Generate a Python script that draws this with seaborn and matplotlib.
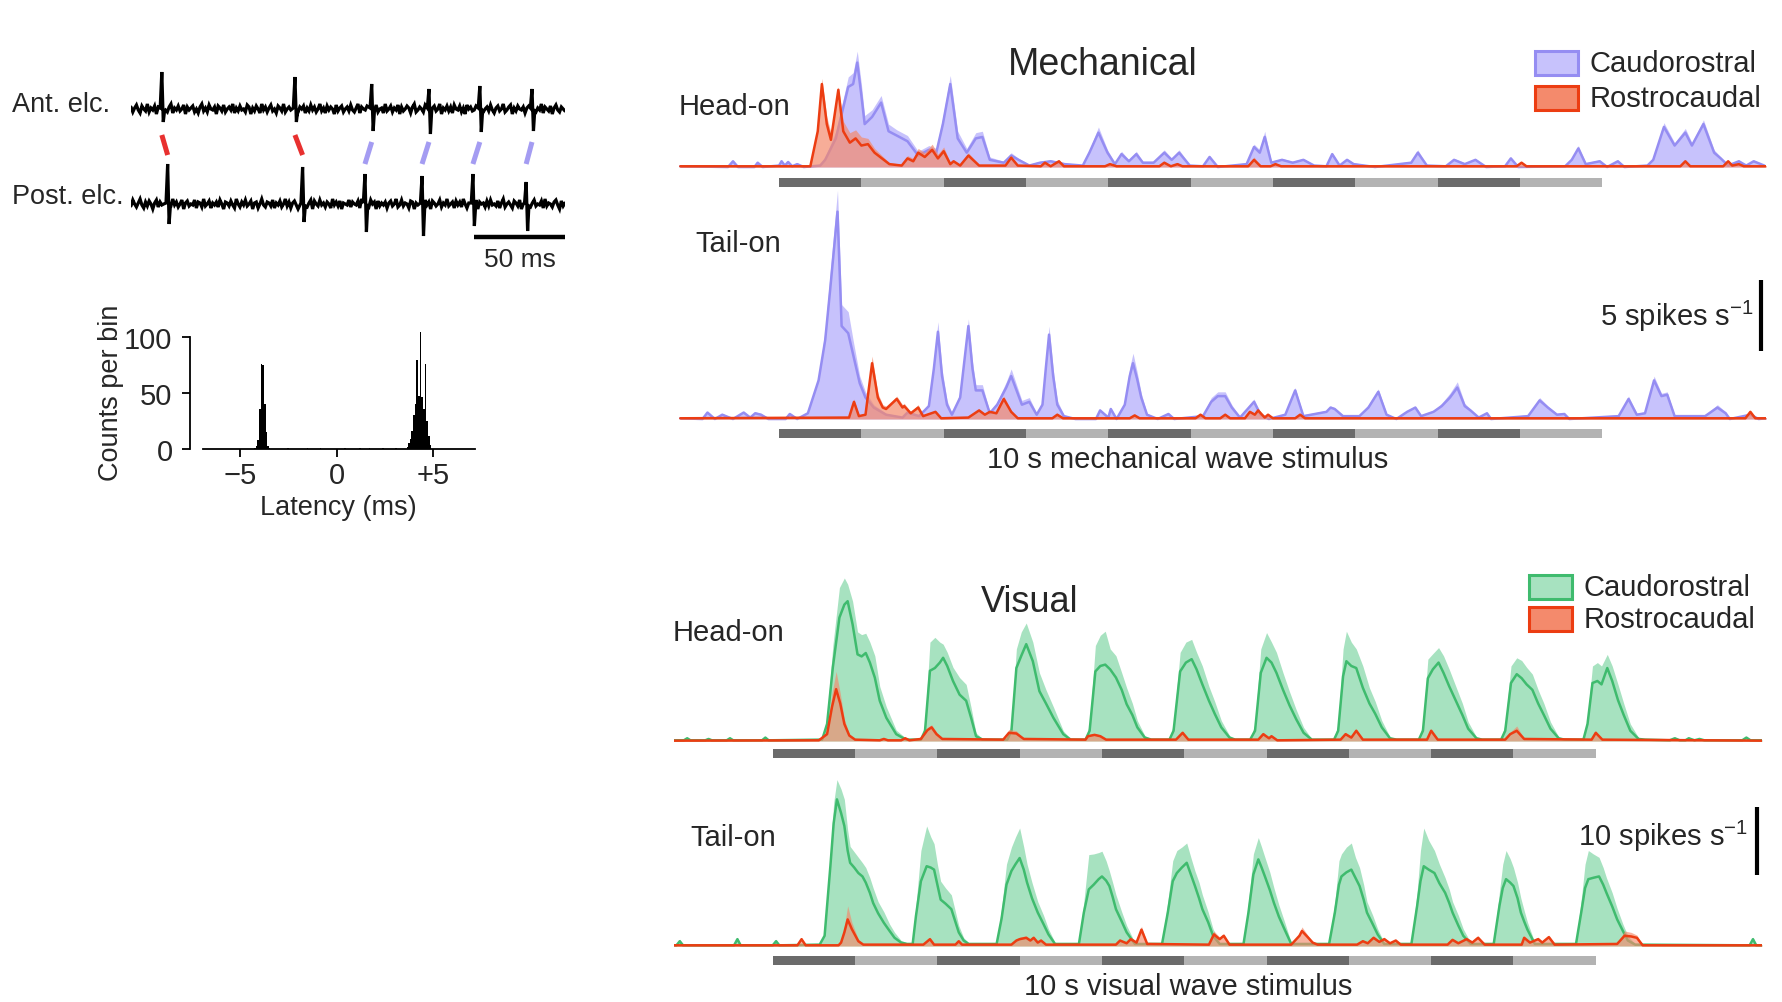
import numpy as np
import pandas as pd
import matplotlib
matplotlib.use("Agg")
import matplotlib.pyplot as plt
from matplotlib.patches import Rectangle
import seaborn as sns

# ------------------------------------------------------------------ data
# Paired electrode recording (time in ms, amplitude in display units)
ANT_SPIKE_MS = [16.9, 89.9, 132.0, 163.4, 191.3, 219.9]
ANT_SPIKE_UP = [37, 32, 25, 20, 23, 20]
ANT_SPIKE_DOWN = [-13, -13, -22, -25, -23, -22]
POST_SPIKE_MS = [20.1, 94.1, 128.3, 159.6, 187.5, 216.7]
POST_SPIKE_UP = [40, 37, 30, 28, 30, 22]
POST_SPIKE_DOWN = [-20, -18, -28, -32, -22, -27]
ANT_NOISE = [2, -3, 1, 4, -1, -4, 3, 0, -2, 5, -3, 1, -1, 3, -5, 2, 0, -2, 4, -1,
             -3, 2, 5, -4, 1, -1, 3, -2, 0, 4, -5, 2, -1, 1, 3, -3, 0, -4, 2, 5,
             -2, 1, -3, 4, 0, -1, 2, -5, 3, 1, -2, 4, -3, 0, 2, -1, 5, -4, 1, -2,
             3, -1, 0, -3, 4, 2, -5, 1, -2, 3, 0, -4, 5, -1, 2, -3, 1, 4, -2, 0,
             -4, 3, 1, -2, 5, -3, 0, 2, -1, -5, 4, 1, -3, 2, 0, 3, -4, 1, -2, 4,
             -1, 2, -3, 0, 5, -2, 1, -4, 3, -1, 2, 0, -5, 4, -2, 1, 3, -3, 0, 2,
             -2, 4, -1, -3, 1, 5, -4, 2, 0, -1, 3, -5, 2, 1, -2, 4, -3, 0, 1, -4,
             5, -2, 0, 3, -3, 1, -1, 4, -5, 2, -2, 0, 3, 1, -4, 2, 5, -3, -1, 2,
             0, -3, 4, -1, 2, -4, 1, 3, -2, 0, 5, -5, 1, -1, 3, -2, 2, -4, 4, 0,
             -1, 3, -3, 1, -5, 4, 0, 2, -2, -1, 3, -4, 5, 1, -3, 0, 2, -2, 4, -1,
             -4, 1, 3, -2, 0, 5, -3, -1, 2, 4, -5, 1, -2, 3, 0, -1, 2, -4, 1, 3,
             -2, 0, 4, -3, 1, -1, 5, -4, 2, 0, -2, 3, -5, 1, 4, -1, -3, 2, 0, -2]
POST_NOISE = [-2, 4, 0, -3, 1, 5, -1, -4, 2, -2, 3, 0, -5, 1, 4, -3, 2, -1, 0, 3,
              -4, 1, -2, 5, -1, 2, -3, 0, 4, -5, 1, 3, -2, 0, -1, 4, -4, 2, 1, -3,
              5, -2, 0, 3, -4, 1, -1, 2, -3, 4, 0, -5, 2, 1, -2, 3, -1, -4, 5, 0,
              -3, 2, -1, 4, -2, 0, 3, -5, 1, 2, -4, 0, 5, -1, -3, 2, 1, -2, 4, -4,
              1, -1, 3, -3, 0, 5, -2, 2, -4, 1, 3, -1, -5, 4, 0, -2, 2, -3, 1, 4,
              -5, 3, 0, -2, 4, -1, 1, -3, 2, 0, -4, 5, -1, 2, -2, 3, -5, 1, 0, -1,
              4, -3, 2, 0, -1, 3, -4, 5, -2, 1, -1, -3, 4, 0, 2, -5, 3, -2, 1, -1,
              2, -4, 1, 3, -2, 0, 5, -3, -1, 4, -2, 1, 0, -4, 3, 2, -5, 1, -1, 3,
              -3, 0, 4, -1, 2, -5, 3, 1, -2, 0, 4, -3, 1, -1, 5, -2, 0, 2, -4, 3,
              -1, 2, -3, 5, 0, -4, 1, 3, -2, -1, 4, -5, 2, 0, 1, -3, 3, -2, 4, -1,
              0, -2, 3, -4, 1, 5, -3, 0, 2, -1, -4, 3, 1, -2, 4, -5, 0, 2, -1, 3,
              -3, 1, 4, -2, 0, -1, 3, -4, 5, -2, 1, 0, -3, 2, 4, -1, -5, 3, -2, 1]
TRACE_LENGTH_MS = 238
SCALE_BAR_MS = 50

# Cross-correlogram between the two electrodes
HIST_LATENCY_MS = [-4.24, -4.155, -4.07, -3.985, -3.9, -3.815, -3.73, -3.645, -3.56, -3.475,
                   -2.54, -1.52, -0.84, 0.435, 1.2, 1.71, 2.39, 3.07,
                   3.665, 3.75, 3.835, 3.92, 4.005, 4.09, 4.175, 4.26, 4.345, 4.43,
                   4.515, 4.6, 4.685, 4.77, 4.855]
HIST_COUNTS = [1, 3, 8, 36, 76, 75, 40, 15, 3, 1,
               1, 1, 1, 1, 1, 1, 1, 1,
               2, 5, 9, 16, 30, 40, 79, 47, 104, 46,
               36, 76, 25, 12, 4]
HIST_BIN_MS = 0.085

# Peri-stimulus rate traces: (time s, mean rate, upper SEM bound) in spikes/s
MECH_HEAD_CR = [(-1.2, .05, .1), (-.62, 0, .05), (-.56, .4, .5), (-.5, 0, .05), (-.3, 0, .05), (-.26, .3, .4),
                (-.2, 0, .05), (0, .1, .1), (.03, .4, .5), (.07, .1, .2), (.11, .35, .45), (.16, .05, .1),
                (.22, .2, .3), (.3, 0, .05), (.5, .1, .2), (.56, .5, .7), (.69, 2.0, 2.5), (.84, 5.6, 6.3),
                (.9, 5.8, 6.6), (.95, 7.3, 8.1), (1.0, 5.0, 5.8), (1.04, 3.0, 3.6), (1.13, 3.5, 4.0),
                (1.24, 4.5, 5.0), (1.33, 2.5, 3.0), (1.43, 2.2, 2.6), (1.56, 1.8, 2.2), (1.69, .8, 1.1),
                (1.82, 1.2, 1.5), (1.91, 1.0, 1.3), (1.99, 3.0, 3.5), (2.08, 5.8, 6.4), (2.17, 2.0, 2.5),
                (2.28, 1.0, 1.3), (2.39, 2.0, 2.4), (2.47, 2.1, 2.5), (2.56, .5, .7), (2.73, .3, .4),
                (2.82, .8, 1.0), (2.91, .5, .6), (3.04, .1, .2), (3.17, .3, .4), (3.3, .4, .5),
                (3.47, .2, .3), (3.69, .1, .15), (3.77, 1.0, 1.2), (3.88, 2.4, 2.8), (3.99, 1.0, 1.2),
                (4.08, .2, .3), (4.16, .9, 1.1), (4.25, .4, .5), (4.34, .9, 1.1), (4.42, .3, .4),
                (4.55, .3, .4), (4.68, 1.0, 1.2), (4.77, .5, .6), (4.86, 1.0, 1.2), (4.99, .1, .15),
                (5.15, .05, .1), (5.23, .7, .8), (5.33, 0, .05), (5.68, .2, .3), (5.77, 1.4, 1.6),
                (5.84, 1.0, 1.2), (5.9, 2.1, 2.5), (5.98, .3, .4), (6.11, .5, .6), (6.24, .3, .4),
                (6.37, .5, .6), (6.5, .1, .15), (6.65, .05, .1), (6.72, .9, 1.0), (6.81, .1, .15),
                (6.9, .5, .6), (6.98, .2, .3), (7.24, 0, .05), (7.68, .3, .4), (7.76, 1.0, 1.2),
                (7.87, .1, .15), (8.1, .05, .1), (8.2, .5, .6), (8.33, .2, .3), (8.46, .5, .6),
                (8.59, 0, .05), (8.82, .05, .1), (8.89, .6, .7), (8.98, 0, .05), (9.55, .05, .1),
                (9.63, .5, .6), (9.71, 1.3, 1.5), (9.8, .2, .3), (9.97, .4, .5), (10.06, 0, .05),
                (10.19, .4, .5), (10.27, 0, .05), (10.55, .1, .15), (10.62, .5, .6), (10.75, 2.8, 3.1),
                (10.88, 1.5, 1.7), (11.01, 2.4, 2.7), (11.09, 1.5, 1.7), (11.23, 3.0, 3.3),
                (11.36, 1.0, 1.2), (11.44, .6, .7), (11.53, .1, .15), (11.66, .4, .5), (11.75, .1, .15),
                (11.84, .4, .5), (11.97, .1, .15)]
MECH_HEAD_RC = [(-1.2, .05, .1), (.38, .05, .1), (.47, 2.5, 2.9), (.52, 5.8, 6.2), (.58, 3.0, 3.5),
                (.63, 1.9, 2.4), (.72, 5.4, 5.6), (.78, 2.5, 3.2), (.86, 1.7, 2.4), (.93, 2.0, 2.6),
                (1.0, 1.5, 2.1), (1.08, 1.6, 2.0), (1.16, 1.0, 1.3), (1.25, .6, .8), (1.34, .2, .3),
                (1.49, .1, .2), (1.56, .6, .8), (1.63, .4, .6), (1.69, 1.0, 1.3), (1.77, .7, 1.0),
                (1.86, 1.2, 1.6), (1.93, .6, .9), (2.0, 1.1, 1.4), (2.08, .2, .3), (2.12, .4, .5),
                (2.2, .1, .15), (2.3, .8, 1.0), (2.43, .1, .15), (2.75, .1, .15), (2.82, .65, .8),
                (2.9, .1, .15), (3.18, .05, .1), (3.23, .3, .4), (3.3, .05, .1), (3.4, .4, .5),
                (3.46, .05, .1), (3.96, .05, .1), (4.02, .2, .3), (4.1, .05, .1), (4.62, .05, .1),
                (4.68, .3, .4), (4.76, .05, .1), (4.84, .2, .3), (4.9, .05, .1), (5.7, .05, .1),
                (5.77, .5, .7), (5.85, .05, .1), (5.97, .05, .1), (6.03, .2, .3), (6.1, .05, .1),
                (8.96, .05, .1), (9.02, .3, .4), (9.08, .05, .1), (10.95, .05, .1), (11.01, .4, .5),
                (11.07, .05, .1), (11.47, .05, .1), (11.53, .4, .5), (11.58, .1, .15), (11.66, .2, .3),
                (11.72, .05, .1), (12.0, .05, .1)]
MECH_TAIL_CR = [(-1.2, .05, .1), (-.93, 0, .05), (-.87, .45, .55), (-.78, 0, .05), (-.69, .3, .4),
                (-.56, 0, .05), (-.43, .45, .55), (-.35, .1, .15), (-.29, .4, .5), (-.22, .3, .4),
                (-.13, 0, .05), (.08, 0, .05), (.13, .35, .45), (.22, 0, .05), (.35, .4, .5),
                (.48, 2.7, 3.0), (.56, 5.5, 6.2), (.62, 9.0, 10.2), (.71, 14.5, 16.0), (.76, 6.5, 8.0),
                (.84, 6.0, 7.5), (.9, 4.5, 5.5), (.98, 2.5, 3.0), (1.05, 1.5, 1.9), (1.15, .8, 1.0),
                (1.3, .3, .4), (1.5, .1, .15), (1.56, .45, .55), (1.7, .2, .3), (1.82, .9, 1.1),
                (1.88, 3.5, 4.0), (1.93, 6.1, 6.8), (1.98, 3.0, 3.5), (2.04, 1.0, 1.3), (2.1, .3, .4),
                (2.2, 1.5, 1.8), (2.25, 4.0, 4.5), (2.3, 6.5, 7.0), (2.35, 3.5, 4.0), (2.39, 2.0, 2.4),
                (2.47, 2.0, 2.4), (2.56, .4, .5), (2.65, 1.0, 1.2), (2.76, 2.2, 2.6), (2.82, 3.0, 3.5),
                (2.95, 1.0, 1.3), (3.04, 1.2, 1.5), (3.13, .3, .4), (3.2, 1.0, 1.2), (3.24, 3.5, 4.0),
                (3.28, 5.9, 6.5), (3.33, 3.0, 3.5), (3.38, 1.0, 1.3), (3.46, .2, .3), (3.6, 0, .05),
                (3.85, 0, .05), (3.9, .6, .7), (4.0, .1, .15), (4.03, .7, .8), (4.1, 0, .05),
                (4.2, 1.0, 1.2), (4.26, 3.0, 3.6), (4.3, 3.9, 4.6), (4.35, 2.8, 3.3), (4.4, 1.5, 1.8),
                (4.47, .3, .4), (4.6, 0, .05), (4.73, .35, .45), (4.8, 0, .05), (5.15, .2, .3),
                (5.25, 1.2, 1.5), (5.33, 1.6, 1.9), (5.42, 1.6, 1.9), (5.5, .8, 1.0), (5.6, .1, .15),
                (5.77, 1.2, 1.4), (5.85, .3, .4), (5.95, 0, .05), (6.15, .3, .4), (6.27, 2.0, 2.2),
                (6.37, .2, .3), (6.65, .5, .6), (6.7, .8, .9), (6.75, .7, .8), (6.85, .2, .3),
                (7.05, .2, .3), (7.16, .8, 1.0), (7.28, 1.9, 2.1), (7.38, .3, .4), (7.5, 0, .05),
                (7.63, .5, .6), (7.73, .8, .9), (7.8, .2, .3), (7.95, .5, .6), (8.05, .9, 1.1),
                (8.15, 1.5, 1.8), (8.24, 2.2, 2.6), (8.33, .9, 1.1), (8.4, .6, .7), (8.5, .1, .15),
                (8.6, .4, .5), (8.65, 0, .05), (9.1, .2, .3), (9.24, 1.3, 1.5), (9.34, .8, .9),
                (9.45, .3, .4), (9.54, .35, .45), (9.6, 0, .05), (10.2, .2, .3), (10.32, 1.4, 1.6),
                (10.42, .3, .4), (10.52, .4, .5), (10.63, 2.7, 3.0), (10.72, 1.6, 1.8),
                (10.79, 1.7, 1.9), (10.88, .2, .3), (11.25, .2, .3), (11.4, .8, 1.0), (11.5, .4, .5),
                (11.55, 0, .05), (11.8, .3, .4), (11.9, 0, .05), (12.0, .05, .1)]
MECH_TAIL_RC = [(-1.2, .05, .1), (.85, .1, .15), (.91, 1.2, 1.4), (.97, .2, .3), (1.05, .3, .4),
                (1.13, 3.9, 4.4), (1.2, 1.5, 1.8), (1.26, .8, 1.0), (1.3, .7, .9), (1.43, 1.4, 1.6),
                (1.5, .8, 1.0), (1.52, .9, 1.1), (1.6, .4, .5), (1.69, .8, 1.0), (1.75, .2, .3),
                (1.9, .5, .6), (1.97, .05, .1), (2.3, .1, .15), (2.43, .6, .7), (2.5, .3, .4),
                (2.56, .5, .6), (2.64, .4, .5), (2.73, 1.4, 1.6), (2.82, .5, .6), (2.9, .05, .1),
                (3.32, .05, .1), (3.38, .3, .4), (3.45, .05, .1), (4.26, .05, .1), (4.32, .25, .35),
                (4.38, .05, .1), (5.06, .05, .1), (5.12, .3, .4), (5.18, .05, .1), (5.36, .05, .1),
                (5.42, .3, .4), (5.48, .05, .1), (5.66, .05, .1), (5.72, .5, .6), (5.78, .3, .4),
                (5.82, .6, .7), (5.9, .1, .15), (5.94, .3, .4), (6.0, .05, .1), (6.27, .05, .1),
                (6.33, .3, .4), (6.39, .05, .1), (11.74, .05, .1), (11.8, .5, .6), (11.86, .05, .1),
                (12.0, .05, .1)]
VIS_HEAD_CR = [(-1.2, .1, .2), (-1.08, .1, .2), (-1.04, .4, .6), (-1.0, .1, .2), (-.82, .1, .2),
               (-.78, .3, .5), (-.74, .1, .2), (-.56, .1, .2), (-.52, .4, .6), (-.48, .1, .2),
               (-.13, .1, .2), (-.09, .5, .7), (-.05, .1, .2),
               (.6, .2, .3), (.66, 2.5, 3.5), (.73, 10.8, 14.0), (.81, 18.1, 22.5), (.87, 20.0, 23.9),
               (.91, 20.5, 23.0), (.97, 17.1, 20.5), (1.03, 12.7, 16.0), (1.08, 12.4, 15.6),
               (1.13, 12.9, 15.8), (1.18, 11.5, 14.5), (1.24, 9.3, 12.5), (1.3, 5.9, 8.0),
               (1.38, 3.4, 5.0), (1.5, 1.0, 1.6), (1.62, .2, .4),
               (1.8, .2, .3), (1.85, 1.5, 2.5), (1.91, 10.3, 14.5), (1.97, 10.7, 15.2),
               (2.03, 11.5, 14.5), (2.07, 12.2, 14.2), (2.12, 11.0, 13.0), (2.19, 8.8, 10.8),
               (2.27, 6.8, 9.3), (2.35, 5.9, 8.3), (2.41, 3.4, 4.9), (2.47, .7, 1.2), (2.55, .2, .3),
               (2.85, .2, .3), (2.9, 1.5, 2.5), (2.96, 10.7, 13.5), (3.02, 12.5, 16.0),
               (3.08, 14.2, 17.3), (3.16, 11.7, 14.5), (3.24, 7.3, 10.0), (3.32, 5.5, 7.5),
               (3.41, 3.4, 5.0), (3.53, 1.0, 1.5), (3.62, .2, .3),
               (3.8, .2, .3), (3.85, 1.5, 2.5), (3.92, 10.2, 14.0), (3.98, 11.0, 15.5),
               (4.04, 11.2, 16.1), (4.1, 10.5, 13.5), (4.17, 9.3, 12.5), (4.24, 7.5, 10.0),
               (4.3, 5.4, 7.8), (4.37, 3.8, 5.5), (4.43, 2.0, 3.0), (4.52, .5, .8), (4.6, .2, .3),
               (4.82, .2, .3), (4.87, 1.5, 2.5), (4.95, 10.2, 13.0), (5.02, 11.5, 14.5),
               (5.09, 12.0, 14.9), (5.15, 10.5, 13.0), (5.22, 8.3, 11.0), (5.3, 5.9, 8.0),
               (5.37, 4.0, 5.8), (5.45, 2.0, 3.0), (5.55, .5, .8), (5.62, .2, .3),
               (5.8, .2, .3), (5.86, 1.5, 2.5), (5.93, 10.0, 13.5), (6.0, 12.2, 15.9),
               (6.06, 11.5, 14.5), (6.12, 10.0, 13.0), (6.2, 7.5, 10.0), (6.28, 5.2, 7.2),
               (6.36, 3.2, 4.6), (6.45, 1.2, 2.0), (6.55, .2, .3),
               (6.82, .2, .3), (6.87, 1.5, 2.5), (6.93, 9.5, 13.5), (6.97, 11.7, 16.1),
               (7.03, 11.0, 14.5), (7.09, 10.7, 13.5), (7.17, 7.8, 11.0), (7.25, 5.5, 7.8),
               (7.32, 4.0, 5.8), (7.4, 2.0, 3.0), (7.5, .4, .6), (7.58, .2, .3),
               (7.85, .2, .3), (7.9, 1.5, 2.5), (7.96, 9.2, 12.0), (8.02, 10.5, 12.8),
               (8.09, 11.5, 13.7), (8.15, 10.0, 12.5), (8.22, 8.0, 10.5), (8.3, 5.9, 8.0),
               (8.38, 3.8, 5.5), (8.45, 1.8, 2.8), (8.55, .4, .6), (8.62, .2, .3),
               (8.85, .2, .3), (8.9, 1.5, 2.5), (8.97, 8.5, 11.0), (9.04, 9.8, 12.2),
               (9.1, 9.2, 11.8), (9.16, 8.3, 10.8), (9.23, 7.5, 9.8), (9.3, 5.5, 7.5),
               (9.37, 3.8, 5.5), (9.45, 1.8, 2.8), (9.55, .4, .6), (9.62, .2, .3),
               (9.85, .2, .3), (9.9, 2.5, 3.5), (9.96, 8.5, 11.0), (10.02, 8.8, 11.5),
               (10.07, 8.3, 11.0), (10.14, 10.7, 12.7), (10.2, 8.8, 11.0), (10.27, 6.0, 8.3),
               (10.34, 3.8, 5.5), (10.42, 1.5, 2.5), (10.52, .3, .5), (10.6, .2, .3),
               (10.9, .1, .2), (10.96, .4, .6), (11.02, .1, .2), (11.09, .1, .2), (11.13, .4, .6),
               (11.2, .1, .2), (11.26, .3, .5), (11.32, .1, .2), (11.78, .1, .2), (11.83, .5, .7),
               (11.88, .1, .2), (12.02, .1, .2)]
VIS_HEAD_RC = [(-1.2, .05, .1), (.56, .1, .2), (.66, 1.0, 1.5), (.72, 5.0, 7.0), (.77, 7.6, 10.2),
               (.82, 5.5, 7.0), (.87, 2.5, 3.2), (.93, .8, 1.0), (1.0, .2, .3), (1.3, .1, .15),
               (1.35, .3, .4), (1.4, .1, .15), (1.56, .1, .15), (1.61, .4, .5), (1.66, .1, .15),
               (1.8, .3, .4), (1.88, 1.6, 2.0), (1.93, 2.0, 2.4), (1.99, 1.0, 1.3), (2.06, .3, .4),
               (2.8, .2, .3), (2.87, 1.2, 1.7), (2.96, 1.1, 1.5), (3.05, .3, .4), (3.8, .2, .3),
               (3.83, .7, .9), (3.91, .9, 1.1), (3.98, .7, .9), (4.05, .2, .3), (4.9, .2, .3),
               (4.98, 1.2, 1.5), (5.05, .2, .3), (5.9, .2, .3), (5.96, 1.0, 1.3), (6.03, .4, .5),
               (6.06, .7, .9), (6.13, .1, .15), (6.9, .2, .3), (6.96, 1.0, 1.3), (7.03, .5, .6),
               (7.09, 1.5, 1.8), (7.17, .2, .3), (7.95, .2, .3), (8.0, 1.5, 1.8), (8.08, .2, .3),
               (8.9, .2, .3), (8.96, 1.0, 1.3), (9.04, 1.5, 2.2), (9.13, .3, .4), (9.95, .2, .3),
               (10.0, 1.2, 1.5), (10.08, .2, .3), (12.02, .05, .1)]
VIS_TAIL_CR = [(-1.2, .1, .2), (-1.17, .1, .2), (-1.13, .7, 1.0), (-1.09, .1, .2), (-.47, .1, .2),
               (-.43, 1.0, 1.3), (-.39, .1, .2), (0, .1, .2), (.04, .7, 1.0), (.08, .1, .2),
               (.57, .2, .3), (.63, 1.5, 2.0), (.7, 11.7, 13.5), (.74, 18.0, 21.0), (.78, 21.5, 24.4),
               (.83, 19.5, 23.0), (.87, 17.6, 21.5), (.91, 14.0, 17.0), (.94, 12.2, 14.6),
               (.99, 11.5, 13.8), (1.04, 10.7, 13.0), (1.09, 10.2, 12.2), (1.13, 9.3, 11.5),
               (1.18, 7.8, 10.0), (1.22, 6.3, 8.5), (1.28, 4.8, 6.5), (1.35, 3.4, 5.0),
               (1.42, 2.2, 3.2), (1.48, 1.2, 2.0), (1.56, .5, .8), (1.63, .3, .5),
               (1.7, .3, .5), (1.74, 4.4, 6.0), (1.8, 9.5, 14.0), (1.87, 11.7, 17.6),
               (1.92, 11.5, 16.0), (1.96, 11.2, 15.0), (2.0, 9.0, 12.0), (2.04, 6.8, 9.5),
               (2.1, 6.2, 8.5), (2.17, 5.4, 7.5), (2.22, 3.5, 5.0), (2.26, 2.0, 3.0), (2.32, .8, 1.2),
               (2.38, .3, .5),
               (2.72, .3, .5), (2.78, 4.0, 5.5), (2.84, 9.0, 12.0), (2.9, 11.0, 14.5),
               (2.95, 12.0, 16.0), (3.0, 12.9, 17.3), (3.05, 11.2, 14.5), (3.09, 9.3, 12.0),
               (3.15, 7.0, 9.3), (3.22, 4.9, 6.5), (3.29, 3.2, 4.5), (3.35, 1.7, 2.5), (3.43, .3, .5),
               (3.72, .3, .5), (3.78, 4.9, 6.5), (3.84, 8.3, 13.4), (3.9, 9.0, 13.5),
               (3.96, 9.8, 13.7), (4.0, 10.2, 13.9), (4.05, 9.6, 12.5), (4.09, 8.8, 11.0),
               (4.13, 7.2, 9.3), (4.17, 5.4, 7.5), (4.24, 3.6, 5.0), (4.3, 2.0, 3.0), (4.4, .3, .5),
               (4.73, .3, .5), (4.8, 4.9, 6.5), (4.86, 9.5, 12.5), (4.91, 10.7, 14.0),
               (4.97, 11.5, 14.5), (5.03, 12.2, 15.1), (5.08, 10.5, 13.0), (5.13, 8.8, 11.0),
               (5.18, 7.0, 9.3), (5.22, 5.4, 7.5), (5.29, 3.5, 5.0), (5.35, 1.5, 2.5), (5.43, .3, .5),
               (5.72, .3, .5), (5.78, 4.9, 6.5), (5.84, 10.5, 13.5), (5.9, 12.7, 15.9),
               (5.94, 11.5, 14.5), (5.98, 10.2, 13.0), (6.04, 8.2, 10.8), (6.09, 6.3, 8.5),
               (6.15, 4.3, 6.0), (6.22, 2.4, 3.5), (6.3, .3, .5),
               (6.76, .3, .5), (6.83, 4.9, 6.5), (6.88, 9.0, 12.5), (6.91, 10.2, 13.5),
               (6.97, 10.8, 14.5), (7.03, 11.2, 15.1), (7.08, 10.0, 13.0), (7.13, 8.8, 11.5),
               (7.18, 6.8, 9.0), (7.22, 4.9, 6.5), (7.29, 3.2, 4.5), (7.35, 1.7, 2.5), (7.43, .3, .5),
               (7.76, .3, .5), (7.83, 5.9, 8.0), (7.87, 9.5, 14.0), (7.91, 11.7, 17.3),
               (7.97, 11.2, 15.5), (8.04, 10.7, 14.0), (8.1, 9.2, 12.0), (8.17, 7.8, 10.0),
               (8.22, 6.3, 8.3), (8.26, 4.9, 6.5), (8.33, 3.0, 4.5), (8.39, 1.5, 2.5), (8.48, .3, .5),
               (8.76, .3, .5), (8.83, 5.9, 8.0), (8.87, 8.5, 12.0), (8.91, 9.8, 14.0),
               (8.96, 9.3, 12.8), (9.0, 8.8, 11.5), (9.05, 7.0, 9.3), (9.09, 4.9, 7.0),
               (9.13, 3.6, 5.2), (9.17, 2.4, 3.5), (9.26, .3, .5),
               (9.76, .3, .5), (9.83, 5.4, 7.5), (9.87, 8.5, 12.0), (9.91, 9.8, 14.0),
               (9.97, 10.0, 13.5), (10.04, 10.2, 13.0), (10.09, 9.0, 11.5), (10.13, 7.8, 10.0),
               (10.2, 5.8, 7.8), (10.26, 3.9, 5.5), (10.33, 2.2, 3.2), (10.39, .8, 1.5),
               (10.48, .2, .3), (11.87, .1, .2), (11.91, 1.0, 1.3), (11.95, .1, .2), (12.02, .1, .2)]
VIS_TAIL_RC = [(-1.2, .1, .15), (.3, .1, .15), (.35, 1.0, 1.2), (.4, .1, .15), (.8, .1, .15),
               (.83, .5, .7), (.87, 2.0, 2.8), (.91, 3.9, 5.9), (.96, 2.5, 3.5), (1.04, .7, 1.0),
               (1.1, .2, .3), (1.83, .2, .3), (1.91, 1.0, 1.3), (1.96, .2, .3), (2.22, .2, .3),
               (2.26, .7, .9), (2.3, .2, .3), (2.9, .2, .3), (2.96, .8, 1.0), (3.0, 1.0, 1.3),
               (3.08, 1.2, 1.5), (3.13, .8, 1.0), (3.17, 1.2, 1.5), (3.22, .5, .7), (3.26, .8, 1.0),
               (3.32, .2, .3), (4.17, .2, .3), (4.22, .8, 1.0), (4.3, .4, .5), (4.35, 1.0, 1.3),
               (4.42, .5, .7), (4.48, 2.4, 2.9), (4.55, .3, .4), (5.3, .2, .3), (5.36, 1.7, 2.2),
               (5.43, 1.0, 1.3), (5.48, 1.5, 1.8), (5.55, .2, .3), (6.3, .2, .3), (6.4, 1.5, 1.9),
               (6.43, 2.2, 2.8), (6.5, 1.3, 1.6), (6.56, .5, .7), (6.62, .2, .3), (7.1, .2, .3),
               (7.17, .7, .9), (7.23, .4, .5), (7.3, 1.2, 1.5), (7.37, .6, .8), (7.43, 1.0, 1.3),
               (7.5, .4, .5), (7.57, .8, 1.0), (7.63, .2, .3), (8.2, .2, .3), (8.26, .9, 1.1),
               (8.33, .4, .5), (8.43, 1.0, 1.3), (8.5, .5, .7), (8.57, 1.2, 1.5), (8.65, .2, .3),
               (9.1, .2, .3), (9.13, 1.2, 1.5), (9.2, .5, .7), (9.3, 1.0, 1.3), (9.35, .5, .7),
               (9.43, 1.3, 1.6), (9.5, .2, .3), (10.26, .3, .4), (10.35, 1.5, 2.2), (10.43, 1.4, 2.0),
               (10.5, 1.2, 1.6), (10.57, .1, .15), (12.02, .1, .15)]

# Stimulus: ten 1-s segments
STIM_SEGMENT_S = [1.0] * 10
SERIES_NAMES = ["Caudorostral", "Rostrocaudal"]

# ------------------------------------------------------------------ style
sns.set_style("white")
plt.rcParams["font.family"] = ["Liberation Sans", "DejaVu Sans"]
plt.rcParams["mathtext.fontset"] = "custom"
plt.rcParams["mathtext.rm"] = "Liberation Sans"
plt.rcParams["mathtext.it"] = "Liberation Sans:italic"
plt.rcParams["mathtext.bf"] = "Liberation Sans:bold"

BLUE_LINE, BLUE_FILL = "#958df2", "#c7c2fc"
RED_LINE, RED_FILL = "#ec3d12", "#f48a6c"
GREEN_LINE, GREEN_FILL = "#3fbb6e", "#a7e2c0"
STIM_DARK, STIM_LIGHT = "#6b6b6b", "#b3b3b3"

W, H = 1783, 1003
fig = plt.figure(figsize=(W / 100, H / 100), dpi=100)
fig.patch.set_facecolor("white")


def px_axes(x0, y0, x1, y1):
    return fig.add_axes([x0 / W, 1 - y1 / H, (x1 - x0) / W, (y1 - y0) / H])


def ftext(x, y, s, size, ha="left", va="center", **kw):
    fig.text(x / W, 1 - y / H, s, fontsize=size, ha=ha, va=va, **kw)


# ------------------------------------------------------------------ electrode traces
ax_tr = px_axes(131, 60, 565, 275)
ax_tr.set_xlim(0, TRACE_LENGTH_MS)
ax_tr.set_ylim(-165, 50)
ax_tr.axis("off")


def build_trace(noise, spike_t, spike_up, spike_down):
    t_noise = np.linspace(0, TRACE_LENGTH_MS, len(noise))
    pts = []
    for tn, v in zip(t_noise, noise):
        if all(abs(tn - ts) > 1.6 for ts in spike_t):
            pts.append((tn, v))
    for ts, up, dn in zip(spike_t, spike_up, spike_down):
        pts += [(ts - 0.9, 1), (ts, up), (ts + 0.8, dn), (ts + 1.5, -2)]
    pts.sort()
    return np.array(pts)


for noise, st, su, sd, off in [(ANT_NOISE, ANT_SPIKE_MS, ANT_SPIKE_UP, ANT_SPIKE_DOWN, 0),
                               (POST_NOISE, POST_SPIKE_MS, POST_SPIKE_UP, POST_SPIKE_DOWN, -95)]:
    tr = build_trace(noise, st, su, sd)
    ax_tr.plot(tr[:, 0], tr[:, 1] + off, color="black", lw=2.3, solid_joinstyle="miter")

for ta, tp in zip(ANT_SPIKE_MS, POST_SPIKE_MS):
    if tp > ta:
        ax_tr.plot([ta, tp], [-26, -46], color="#e8302f", lw=3.6, solid_capstyle="butt")
    else:
        ax_tr.plot([ta, tp], [-33, -55], color="#a49cf2", lw=3.6, solid_capstyle="butt")

ax_tr.plot([TRACE_LENGTH_MS - SCALE_BAR_MS, TRACE_LENGTH_MS], [-128, -128], color="black", lw=3.2,
           solid_capstyle="butt")
ftext(520, 260, f"{SCALE_BAR_MS} ms", 19, ha="center")
ftext(12, 105, "Ant. elc.", 19.5)
ftext(12, 197, "Post. elc.", 19.5)

# ------------------------------------------------------------------ correlogram
ax_h = px_axes(203, 331, 475, 450)
hist_df = pd.DataFrame({"latency": HIST_LATENCY_MS, "count": HIST_COUNTS})
n_bins = 169
bin_lo = HIST_LATENCY_MS[0] - HIST_BIN_MS / 2 - 40 * HIST_BIN_MS
sns.histplot(data=hist_df, x="latency", weights="count", bins=n_bins,
             binrange=(bin_lo, bin_lo + n_bins * HIST_BIN_MS), color="black", alpha=1,
             linewidth=0, ax=ax_h)
ax_h.set_xlim(-6.93, 7.17)
ax_h.set_ylim(0, 106)
ax_h.set_xlabel("")
ax_h.set_ylabel("")
sns.despine(ax=ax_h)
ax_h.spines["left"].set_position(("outward", 9.4))
ax_h.spines["left"].set_bounds(0, 100)
for s in ["left", "bottom"]:
    ax_h.spines[s].set_linewidth(1.3)
    ax_h.spines[s].set_color("black")
ax_h.set_yticks([0, 50, 100])
ax_h.set_yticklabels(["0", "50", "100"])
ax_h.set_xticks([-5, 0, 5])
ax_h.set_xticklabels(["\u22125", "0", "+5"])
ax_h.tick_params(axis="both", direction="out", length=6, width=1.3, labelsize=21,
                 left=True, bottom=True, color="black")
ax_h.tick_params(axis="y", pad=6.5)
ax_h.tick_params(axis="x", pad=3)
ftext(111, 393, "Counts per bin", 19.5, ha="center", rotation=90)
ftext(338, 508, "Latency (ms)", 19.5, ha="center")


# ------------------------------------------------------------------ rate panels
def rate_axes(x0, x1, t0, t1, base_px, scale, top_px, bot_px):
    ax = px_axes(x0, top_px, x1, bot_px)
    ax.set_xlim(t0, t1)
    ax.set_ylim(-(bot_px - base_px) / scale, (base_px - top_px) / scale)
    ax.axis("off")
    return ax


def draw_series(ax, data, line, fill, fill_alpha, z):
    df = pd.DataFrame(data, columns=["t", "mean", "upper"])
    ax.fill_between(df["t"], 0, df["upper"], color=fill, alpha=fill_alpha, lw=0, zorder=z)
    sns.lineplot(data=df, x="t", y="mean", ax=ax, color=line, lw=1.8, estimator=None,
                 sort=False, legend=False, zorder=z + 0.5)


def draw_stim(ax, offset_px, scale):
    start = 0.0
    for i, d in enumerate(STIM_SEGMENT_S):
        ax.broken_barh([(start, d)], (-(offset_px + 4.5) / scale, 9 / scale),
                       color=STIM_DARK if i % 2 == 0 else STIM_LIGHT, lw=0)
        start += d


MECH_SCALE = 14.3
VIS_SCALE = 6.82

ax_mh = rate_axes(677, 1766, -1.24, 11.99, 168, MECH_SCALE, 40, 200)
draw_series(ax_mh, MECH_HEAD_CR, BLUE_LINE, BLUE_FILL, 1.0, 2)
draw_series(ax_mh, MECH_HEAD_RC, RED_LINE, RED_FILL, 0.7, 3)
draw_stim(ax_mh, 15, MECH_SCALE)

ax_mt = rate_axes(677, 1766, -1.24, 11.99, 420, MECH_SCALE, 180, 445)
draw_series(ax_mt, MECH_TAIL_CR, BLUE_LINE, BLUE_FILL, 1.0, 2)
draw_series(ax_mt, MECH_TAIL_RC, RED_LINE, RED_FILL, 0.7, 3)
draw_stim(ax_mt, 14, MECH_SCALE)
ax_mt.plot([11.93, 11.93], [4.75, 9.75], color="black", lw=3, clip_on=False,
           solid_capstyle="butt")

ax_vh = rate_axes(674, 1762, -1.2, 12.02, 742, VIS_SCALE, 570, 770)
draw_series(ax_vh, VIS_HEAD_CR, GREEN_LINE, GREEN_FILL, 1.0, 2)
draw_series(ax_vh, VIS_HEAD_RC, RED_LINE, RED_FILL, 0.65, 3)
draw_stim(ax_vh, 12, VIS_SCALE)

ax_vt = rate_axes(674, 1762, -1.2, 12.02, 947, VIS_SCALE, 770, 975)
draw_series(ax_vt, VIS_TAIL_CR, GREEN_LINE, GREEN_FILL, 1.0, 2)
draw_series(ax_vt, VIS_TAIL_RC, RED_LINE, RED_FILL, 0.65, 3)
draw_stim(ax_vt, 14, VIS_SCALE)
ax_vt.plot([11.96, 11.96], [10.4, 20.4], color="black", lw=3, clip_on=False,
           solid_capstyle="butt")

# panel text
ftext(1103, 65, "Mechanical", 27, ha="center")
ftext(679, 107, "Head-on", 21)
ftext(695, 244, "Tail-on", 21)
ftext(1754, 316, "5 spikes s$^{\u22121}$", 21, ha="right")
ftext(1188, 460, "10 s mechanical wave stimulus", 21, ha="center")

ftext(1030, 603, "Visual", 26, ha="center")
ftext(673, 633, "Head-on", 21)
ftext(690, 838, "Tail-on", 21)
ftext(1748, 836, "10 spikes s$^{\u22121}$", 21, ha="right")
ftext(1188, 987, "10 s visual wave stimulus", 21, ha="center")


# legends
def legend_box(x0, ys, fills, edges_, names):
    for y, fc, ec, name in zip(ys, fills, edges_, names):
        fig.patches.append(Rectangle((x0 / W, 1 - (y + 12) / H), 43 / W, 24 / H,
                                     transform=fig.transFigure, facecolor=fc, edgecolor=ec,
                                     lw=2.2))
        ftext(x0 + 55, y, name, 21)


legend_box(1535, [64, 99], [BLUE_FILL, RED_FILL], [BLUE_LINE, RED_LINE], SERIES_NAMES)
legend_box(1529, [588, 620], [GREEN_FILL, RED_FILL], [GREEN_LINE, RED_LINE], SERIES_NAMES)

fig.savefig("out.png", dpi=100, facecolor="white")
